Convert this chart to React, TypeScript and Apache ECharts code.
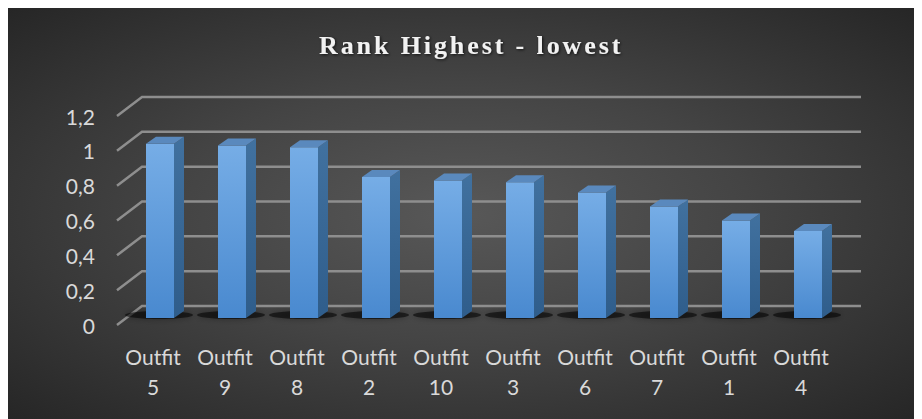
import React, { useEffect, useRef } from "react";
import * as echarts from "echarts";

const categories = ["Outfit 5", "Outfit 9", "Outfit 8", "Outfit 2", "Outfit 10", "Outfit 3", "Outfit 6", "Outfit 7", "Outfit 1", "Outfit 4"];
const values = [1.0, 0.99, 0.98, 0.81, 0.79, 0.78, 0.72, 0.64, 0.56, 0.5];
const yTicks = [0, 0.2, 0.4, 0.6, 0.8, 1, 1.2];
const yTickLabels = ["0", "0,2", "0,4", "0,6", "0,8", "1", "1,2"];
const titleText = "Rank Highest - lowest";

export default function App() {
  const ref = useRef<HTMLDivElement>(null);
  useEffect(() => {
    if (!ref.current) return;
    const chart = echarts.init(ref.current, null, { renderer: "svg" });
    const frontGrad = new echarts.graphic.LinearGradient(0, 0, 0, 1, [
      { offset: 0, color: "#76ade6" },
      { offset: 1, color: "#4989cf" },
    ]);
    const sideGrad = new echarts.graphic.LinearGradient(0, 0, 0, 1, [
      { offset: 0, color: "#41719f" },
      { offset: 1, color: "#2f5d8b" },
    ]);
    const spaceTitle = () => {
      const el = ref.current;
      if (!el) return;
      el.querySelectorAll("text").forEach((t) => {
        if (t.textContent === titleText) t.setAttribute("letter-spacing", "2.9");
      });
    };
    chart.on("finished", spaceTitle);
    chart.setOption({
      animation: false,
      backgroundColor: "transparent",
      title: {
        text: titleText,
        left: 306,
        top: 19,
        textStyle: {
          color: "#f2f2f2",
          fontFamily: "'Liberation Serif', 'DejaVu Serif', serif",
          fontWeight: "bold",
          fontSize: 26,
          textShadowColor: "rgba(0,0,0,0.7)",
          textShadowBlur: 3,
          textShadowOffsetX: 1,
          textShadowOffsetY: 1,
        },
      },
      grid: { left: 109, right: 78, top: 108, bottom: 94, containLabel: false },
      xAxis: {
        type: "category",
        data: categories,
        axisLine: { show: false },
        axisTick: { show: false },
        axisLabel: {
          color: "#d9d9d9",
          fontFamily: "Lato, 'Noto Sans', sans-serif",
          fontSize: 21,
          lineHeight: 30,
          margin: 16,
          interval: 0,
          formatter: (v: string) => v.replace(" ", "\n"),
        },
      },
      yAxis: {
        type: "value",
        min: 0,
        max: 1.2,
        interval: 0.2,
        axisLine: { show: false },
        axisTick: { show: false },
        splitLine: { show: false },
        axisLabel: {
          color: "#d9d9d9",
          fontFamily: "Lato, 'Noto Sans', sans-serif",
          fontSize: 21,
          margin: 22,
          formatter: (v: number) => {
            const i = yTicks.findIndex((t) => Math.abs(t - v) < 1e-6);
            return i >= 0 ? yTickLabels[i] : String(v);
          },
        },
      },
      series: [
        {
          type: "custom",
          silent: true,
          z: 1,
          data: yTicks.map((v) => [0, v]),
          renderItem: (params: any, api: any) => {
            const p = api.coord([0, api.value(1)]);
            const cs = params.coordSys;
            const y = p[1];
            const x = cs.x;
            const right = cs.x + cs.width;
            return {
              type: "polyline",
              shape: { points: [[x, y], [x + 25, y - 19], [right + 24, y - 19]] },
              style: { stroke: "#8e8e8e", lineWidth: 2.5, fill: "none" },
            };
          },
        },
        {
          type: "custom",
          silent: true,
          z: 2,
          data: categories.map((c, i) => [i, values[i]]),
          renderItem: (params: any, api: any) => {
            const idx = api.value(0);
            const v = api.value(1);
            const base = api.coord([idx, 0]);
            const top = api.coord([idx, v]);
            const cx = base[0];
            const y0 = base[1] - 7;
            const y1 = top[1] - 7;
            const x0 = cx - 7;
            const x1 = cx + 21;
            const dx = 10;
            const dy = 7;
            return {
              type: "group",
              children: [
                {
                  type: "ellipse",
                  shape: { cx: cx + 6, cy: y0 - 3, rx: 34, ry: 4 },
                  style: { fill: "rgba(0,0,0,0.55)", shadowBlur: 6, shadowColor: "rgba(0,0,0,0.6)" },
                },
                {
                  type: "rect",
                  shape: { x: x0, y: y1, width: x1 - x0, height: y0 - y1 },
                  style: { fill: frontGrad },
                },
                {
                  type: "polygon",
                  shape: { points: [[x1, y0], [x1, y1], [x1 + dx, y1 - dy], [x1 + dx, y0 - dy]] },
                  style: { fill: sideGrad },
                },
                {
                  type: "polygon",
                  shape: { points: [[x0, y1], [x1, y1], [x1 + dx, y1 - dy], [x0 + dx, y1 - dy]] },
                  style: { fill: "#5a89bd" },
                },
              ],
            };
          },
        },
      ],
    });
    spaceTitle();
    const t = setTimeout(spaceTitle, 50);
    return () => {
      clearTimeout(t);
      chart.dispose();
    };
  }, []);
  return (
    <div
      ref={ref}
      style={{
        width: 907,
        height: 411,
        background: "radial-gradient(ellipse at 50% 50%, #585858 0%, #444444 45%, #262626 100%)",
      }}
    />
  );
}
